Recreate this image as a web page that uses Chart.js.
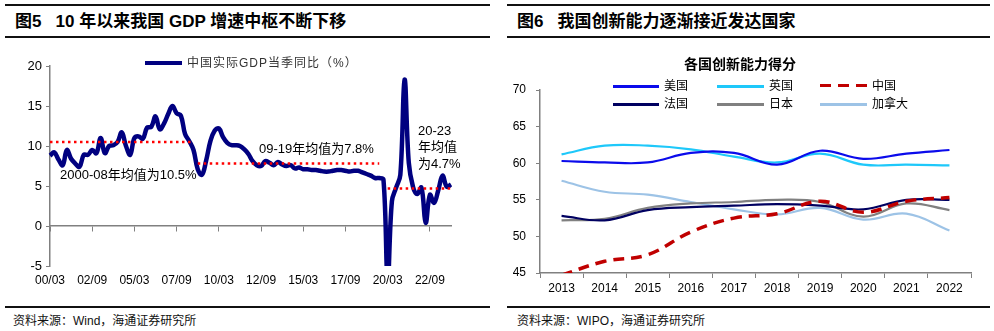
<!DOCTYPE html>
<html>
<head>
<meta charset="utf-8">
<script src="https://cdn.jsdelivr.net/npm/chart.js@4/dist/chart.umd.min.js"></script>
<style>
  body { margin: 0; background: #fff; }
  #page { position: relative; width: 994px; height: 331px; overflow: hidden;
    font-family: "Liberation Sans", "Noto Sans CJK SC", sans-serif; color: #000; }
  canvas { position: absolute; }
  .rule { position: absolute; height: 2px; background: #111; }
  .txt { position: absolute; white-space: nowrap; }
  .title { font-size: 17px; font-weight: bold; line-height: 20px; top: 12px; }
  .src { font-size: 12px; line-height: 16px; top: 313px; color: #111; }
  .note { font-size: 13px; line-height: 16px; }
  .key { position: absolute; height: 3px; }
  .keytxt { position: absolute; font-size: 12px; line-height: 16px; white-space: nowrap; }
</style>
</head>
<body>
<div id="page">
  <canvas id="gdpChart" width="497" height="256" style="left:0;top:40px;width:497px;height:256px"></canvas>
  <canvas id="giiChart" width="497" height="263" style="left:497px;top:40px;width:497px;height:263px"></canvas>

  <!-- frame rules -->
  <div class="rule" style="left:5px;top:4px;width:485px"></div>
  <div class="rule" style="left:5px;top:36px;width:485px"></div>
  <div class="rule" style="left:5px;top:306px;width:485px"></div>
  <div class="rule" style="left:507px;top:4px;width:483px"></div>
  <div class="rule" style="left:507px;top:36px;width:483px"></div>
  <div class="rule" style="left:507px;top:306px;width:483px"></div>

  <div class="txt title" style="left:15px">图5&nbsp;&nbsp;&nbsp;10 年以来我国 GDP 增速中枢不断下移</div>
  <div class="txt title" style="left:517px">图6&nbsp;&nbsp;&nbsp;我国创新能力逐渐接近发达国家</div>
  <div class="txt src" style="left:13px">资料来源：Wind，海通证券研究所</div>
  <div class="txt src" style="left:517px">资料来源：WIPO，海通证券研究所</div>

  <!-- left legend + notes -->
  <div class="key" style="left:145px;top:61px;width:37px;height:4px;background:#000080"></div>
  <div class="keytxt" style="left:187px;top:55px;color:#333;letter-spacing:1px">中国实际GDP当季同比（%）</div>
  <div class="txt note" style="left:60px;top:167px">2000-08年均值为10.5%</div>
  <div class="txt note" style="left:259px;top:141px">09-19年均值为7.8%</div>
  <div class="txt note" style="left:418px;top:123px">20-23</div>
  <div class="txt note" style="left:418px;top:139px">年均值</div>
  <div class="txt note" style="left:418px;top:156px">为4.7%</div>

  <!-- right title + legend -->
  <div class="txt" style="left:684px;top:55px;font-size:14px;font-weight:bold;line-height:18px">各国创新能力得分</div>
  <div class="key" style="left:613px;top:85px;width:46px;background:#0B0BEB"></div>
  <div class="keytxt" style="left:664px;top:78px">美国</div>
  <div class="key" style="left:717px;top:85px;width:47px;background:#1EC8FA"></div>
  <div class="keytxt" style="left:769px;top:78px">英国</div>
  <div class="key" style="left:820px;top:84px;width:47px;height:3px;background:repeating-linear-gradient(90deg,#C00000 0 11px,transparent 11px 18px)"></div>
  <div class="keytxt" style="left:872px;top:78px">中国</div>
  <div class="key" style="left:613px;top:103px;width:46px;background:#000060"></div>
  <div class="keytxt" style="left:664px;top:96px">法国</div>
  <div class="key" style="left:717px;top:103px;width:47px;background:#808080"></div>
  <div class="keytxt" style="left:769px;top:96px">日本</div>
  <div class="key" style="left:820px;top:103px;width:47px;background:#9DC3E6"></div>
  <div class="keytxt" style="left:872px;top:96px">加拿大</div>
</div>

<script>
'use strict';
//--------------------DATA

// quarterly real GDP yoy, 2000Q1 - 2023Q4
const gdpYoY = [
  8.8, 9.2, 8.3, 7.6,    9.5, 8.4, 7.8, 7.4,
  8.9, 8.9, 9.5, 9.1,    11.0, 9.1, 10.0, 10.1,
  10.5, 11.7, 10.0, 8.9, 11.0, 11.2, 10.9, 12.3,
  12.4, 13.7, 12.1, 12.8, 14.0, 15.0, 14.1, 13.8,
  11.5, 10.6, 9.5, 7.1,  6.4, 8.2, 10.6, 11.9,
  12.2, 11.1, 10.4, 10.1, 10.1, 10.0, 9.6, 9.0,
  8.1, 7.6, 7.5, 8.1,    7.9, 7.6, 8.0, 7.7,
  7.5, 7.6, 7.2, 7.3,    7.1, 7.1, 7.0, 7.0,
  6.9, 6.8, 6.8, 6.9,    7.0, 7.0, 6.9, 6.8,
  6.9, 6.9, 6.7, 6.5,    6.3, 6.0, 6.0, 5.8,
  -6.9, 3.1, 4.8, 6.4,   18.3, 7.9, 4.9, 4.0,
  4.8, 0.4, 3.9, 2.9,    4.5, 6.3, 4.9, 5.2
];
const gdpTickLabels = ['00/03', '02/09', '05/03', '07/09', '10/03', '12/09', '15/03', '17/09', '20/03', '22/09'];
const avgLevels = [10.5, 7.8, 4.7];
// [first, last] quarter index of each average line
const avgSpans = [[0, 34], [35, 78], [80, 95]];

const giiYears = ['2013', '2014', '2015', '2016', '2017', '2018', '2019', '2020', '2021', '2022'];
const usa    = [60.3, 60.1, 60.1, 61.4, 61.4, 59.8, 61.7, 60.6, 61.3, 61.8];
const uk     = [61.2, 62.4, 62.4, 61.9, 60.9, 60.1, 61.3, 59.8, 59.8, 59.7];
const china  = [44.7, 46.6, 47.5, 50.6, 52.5, 53.1, 54.8, 53.3, 54.8, 55.3];
const france = [52.8, 52.2, 53.6, 54.0, 54.2, 54.4, 54.2, 53.7, 55.0, 55.0];
const japan  = [52.2, 52.4, 53.9, 54.5, 54.7, 55.0, 54.7, 52.7, 54.5, 53.6];
const canada = [57.6, 56.1, 55.7, 54.7, 53.7, 53.0, 53.9, 52.3, 53.1, 50.8];

//--------------------SETUP

Chart.defaults.font.family = '"Liberation Sans", "Noto Sans CJK SC", sans-serif';
Chart.defaults.color = '#000';

// quarter labels like 00/03, 00/06 ...
let quarters = [];
for (let y = 2000; y <= 2023; y++) {
  for (let m of ['03', '06', '09', '12']) {
    quarters.push(String(y).slice(2) + '/' + m);
  }
}

function avgLine(level, span) {
  return quarters.map((q, i) => (i >= span[0] && i <= span[1]) ? level : null);
}

let avgSets = avgLevels.map((lv, k) => ({
  data: avgLine(lv, avgSpans[k]),
  borderColor: '#FF0000',
  borderWidth: 2.5,
  borderDash: [2.5, 3.5],
  pointRadius: 0,
  tension: 0,
  spanGaps: false,
}));

//--------------------CHART 1

new Chart(document.getElementById('gdpChart'), {
  type: 'line',
  data: {
    labels: quarters,
    datasets: avgSets.concat([{
      data: gdpYoY,
      borderColor: '#000080',
      borderWidth: 4.5,
      pointRadius: 0,
      tension: 0.4,
    }]),
  },
  options: {
    responsive: false,
    animation: false,
    layout: { padding: { top: 26, right: 46, left: 0, bottom: 0 } },
    plugins: { legend: { display: false }, tooltip: { enabled: false } },
    scales: {
      x: {
        border: { display: false },
        grid: { display: false, drawTicks: false },
        ticks: {
          autoSkip: false,
          maxRotation: 0,
          padding: 7,
          font: { size: 12 },
          callback: function (v, i) {
            return gdpTickLabels.includes(quarters[i]) ? quarters[i] : '';
          },
        },
        afterFit: (s) => { s.height = 30; },
      },
      zeroAxis: {
        type: 'category',
        axis: 'x',
        position: { y: 0 },
        border: { color: '#808080', width: 1.5 },
        grid: {
          drawOnChartArea: false,
          tickLength: 5,
          color: (ctx) => gdpTickLabels.includes(quarters[ctx.index]) ? '#808080' : 'rgba(0,0,0,0)',
        },
        ticks: { display: false, autoSkip: false },
      },
      y: {
        min: -5,
        max: 20,
        border: { color: '#808080', width: 1.5 },
        grid: { drawOnChartArea: false, tickLength: 4, color: '#808080' },
        ticks: { stepSize: 5, padding: 4, font: { size: 13 } },
        afterFit: (s) => { s.width = 50; },
      },
    },
  },
});

//--------------------CHART 2

function giiSet(data, color, dashed) {
  return {
    data: data,
    borderColor: color,
    borderWidth: dashed ? 3.5 : 2.2,
    borderDash: dashed ? [11, 7] : [],
    pointRadius: 0,
    tension: 0.4,
  };
}

new Chart(document.getElementById('giiChart'), {
  type: 'line',
  data: {
    labels: giiYears,
    datasets: [
      giiSet(china, '#C00000', true),
      giiSet(usa, '#0B0BEB'),
      giiSet(uk, '#1EC8FA'),
      giiSet(france, '#000060'),
      giiSet(japan, '#808080'),
      giiSet(canada, '#9DC3E6'),
    ],
  },
  options: {
    responsive: false,
    animation: false,
    layout: { padding: { top: 50, right: 23, left: 0, bottom: 0 } },
    plugins: { legend: { display: false }, tooltip: { enabled: false } },
    scales: {
      x: {
        offset: true,
        border: { color: '#808080', width: 1.5 },
        grid: { offset: true, drawOnChartArea: false, tickLength: 5, color: '#808080' },
        ticks: { padding: 3, maxRotation: 0, font: { size: 12 } },
        afterFit: (s) => { s.height = 30; },
      },
      y: {
        min: 45,
        max: 70,
        border: { color: '#808080', width: 1.5 },
        grid: { drawOnChartArea: false, tickLength: 4, color: '#808080' },
        ticks: { stepSize: 5, padding: 10, font: { size: 12 } },
        afterFit: (s) => { s.width = 43; },
      },
    },
  },
});
</script>
</body>
</html>
